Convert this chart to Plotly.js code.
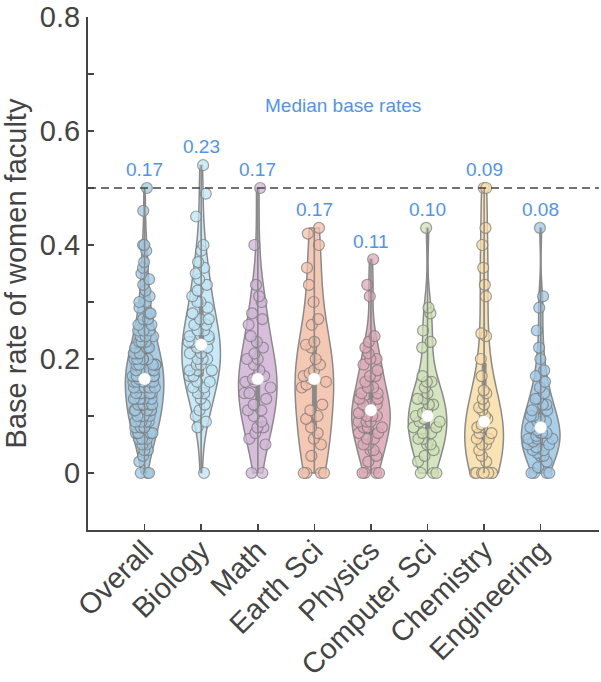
<!DOCTYPE html>
<html>
<head>
<meta charset="utf-8">
<script src="https://cdn.plot.ly/plotly-3.0.1.min.js"></script>
<style>
  html, body { margin: 0; padding: 0; background: #fff; }
  #chart { width: 601px; height: 682px; }
</style>
</head>
<body>
<div id="chart"></div>
<script>
var categories = ['Overall', 'Biology', 'Math', 'Earth Sci', 'Physics', 'Computer Sci', 'Chemistry', 'Engineering'];
var medianLabels = ['0.17', '0.23', '0.17', '0.17', '0.11', '0.10', '0.09', '0.08'];
var threshold = 0.5;

var overall = [0.5, 0.46, 0.40, 0.40, 0.39, 0.37, 0.36, 0.35, 0.34, 0.33, 0.32, 0.31, 0.30, 0.30, 0.29,
  0.28, 0.28, 0.27, 0.27, 0.26, 0.26, 0.25, 0.25, 0.25, 0.24, 0.24, 0.24, 0.23, 0.23, 0.23,
  0.22, 0.22, 0.22, 0.22, 0.21, 0.21, 0.21, 0.21, 0.20, 0.20, 0.20, 0.20, 0.20,
  0.19, 0.19, 0.19, 0.19, 0.19, 0.18, 0.18, 0.18, 0.18, 0.18, 0.17, 0.17, 0.17, 0.17, 0.17, 0.17,
  0.165, 0.165, 0.16, 0.16, 0.16, 0.16, 0.16, 0.15, 0.15, 0.15, 0.15, 0.15,
  0.14, 0.14, 0.14, 0.14, 0.14, 0.13, 0.13, 0.13, 0.13, 0.13, 0.12, 0.12, 0.12, 0.12, 0.12,
  0.11, 0.11, 0.11, 0.11, 0.11, 0.10, 0.10, 0.10, 0.10, 0.10, 0.09, 0.09, 0.09, 0.09,
  0.08, 0.08, 0.08, 0.08, 0.07, 0.07, 0.07, 0.07, 0.06, 0.06, 0.06, 0.05, 0.05, 0.04, 0.04,
  0.03, 0.02, 0.0, 0.0, 0.0];
var biology = [0.54, 0.49, 0.45, 0.40, 0.39, 0.37, 0.36, 0.35, 0.34, 0.33, 0.32, 0.31, 0.30, 0.30,
  0.29, 0.28, 0.27, 0.27, 0.26, 0.26, 0.25, 0.25, 0.24, 0.24, 0.235, 0.23, 0.23, 0.225,
  0.22, 0.22, 0.21, 0.21, 0.20, 0.20, 0.20, 0.19, 0.19, 0.18, 0.18, 0.18, 0.17, 0.17,
  0.16, 0.16, 0.15, 0.15, 0.14, 0.14, 0.13, 0.12, 0.11, 0.10, 0.09, 0.08, 0.0];
var math = [0.5, 0.40, 0.33, 0.31, 0.30, 0.28, 0.27, 0.26, 0.24, 0.23, 0.22, 0.21, 0.20, 0.20,
  0.19, 0.18, 0.17, 0.17, 0.165, 0.16, 0.16, 0.15, 0.14, 0.14, 0.13, 0.12, 0.11, 0.11,
  0.10, 0.09, 0.08, 0.08, 0.07, 0.06, 0.05, 0.0, 0.0];
var earthSci = [0.43, 0.42, 0.40, 0.36, 0.33, 0.30, 0.27, 0.26, 0.23, 0.225, 0.22, 0.20, 0.19,
  0.18, 0.175, 0.17, 0.165, 0.16, 0.155, 0.15, 0.12, 0.11, 0.10, 0.095, 0.08, 0.07, 0.06,
  0.05, 0.03, 0.0, 0.0, 0.0, 0.0];
var physics = [0.375, 0.33, 0.31, 0.24, 0.23, 0.22, 0.21, 0.20, 0.20, 0.19, 0.18, 0.17, 0.17,
  0.16, 0.15, 0.15, 0.14, 0.14, 0.13, 0.13, 0.12, 0.12, 0.12, 0.115, 0.11, 0.105, 0.10, 0.10,
  0.10, 0.09, 0.09, 0.09, 0.08, 0.08, 0.08, 0.07, 0.07, 0.06, 0.06, 0.05, 0.05, 0.04, 0.04,
  0.03, 0.02, 0.0, 0.0, 0.0, 0.0];
var computerSci = [0.43, 0.29, 0.28, 0.25, 0.23, 0.22, 0.17, 0.16, 0.16, 0.15, 0.14, 0.13, 0.13,
  0.12, 0.12, 0.11, 0.105, 0.10, 0.095, 0.09, 0.09, 0.08, 0.08, 0.07, 0.07, 0.06, 0.06, 0.05,
  0.05, 0.04, 0.03, 0.02, 0.0, 0.0, 0.0];
var chemistry = [0.5, 0.5, 0.43, 0.40, 0.36, 0.33, 0.31, 0.245, 0.24, 0.20, 0.17, 0.145, 0.14,
  0.13, 0.12, 0.115, 0.11, 0.10, 0.095, 0.09, 0.085, 0.08, 0.08, 0.07, 0.07, 0.06, 0.06,
  0.05, 0.05, 0.04, 0.03, 0.02, 0.0, 0.0, 0.0, 0.0, 0.0, 0.0, 0.0];
var engineering = [0.43, 0.31, 0.29, 0.25, 0.22, 0.20, 0.18, 0.17, 0.16, 0.15, 0.14, 0.13, 0.13,
  0.12, 0.12, 0.11, 0.11, 0.10, 0.10, 0.095, 0.09, 0.09, 0.085, 0.08, 0.075, 0.07, 0.07, 0.07,
  0.065, 0.06, 0.06, 0.06, 0.055, 0.05, 0.05, 0.045, 0.04, 0.04, 0.035, 0.03, 0.03, 0.02,
  0.01, 0.0, 0.0, 0.0, 0.0];

var series = [overall, biology, math, earthSci, physics, computerSci, chemistry, engineering];

var fills = ['#a9cde4', '#c8eaf8', '#d8bedc', '#f5c8b3', '#e2b3bf', '#d5e5bf', '#fae3b3', '#a9d0ea'];
var dots = ['rgba(160,200,225,0.75)', 'rgba(190,228,245,0.75)', 'rgba(210,182,216,0.75)',
  'rgba(243,192,170,0.75)', 'rgba(222,170,183,0.75)', 'rgba(205,224,180,0.75)',
  'rgba(248,220,165,0.75)', 'rgba(160,200,230,0.75)'];
var gray = '#8a8a8a';
var blue = '#4f94ef';
var ink = '#444444';

function median(arr) {
  var s = arr.slice().sort(function(a, b) { return a - b; });
  var m = Math.floor(s.length / 2);
  return s.length % 2 ? s[m] : (s[m - 1] + s[m]) / 2;
}

var data = [];
var annotations = [];

series.forEach(function(vals, i) {
  var cat = categories[i];
  data.push({
    type: 'violin',
    x: vals.map(function() { return cat; }),
    y: vals,
    name: cat,
    width: 0.68,
    scalemode: 'width',
    spanmode: 'hard',
    fillcolor: fills[i],
    line: { color: gray, width: 1.5 },
    points: 'all',
    jitter: 0.75,
    pointpos: 0,
    marker: {
      size: 11,
      color: dots[i],
      line: { color: 'rgba(120,120,120,0.7)', width: 1.2 }
    },
    box: {
      visible: true,
      width: 0.1,
      fillcolor: gray,
      line: { color: gray, width: 1 }
    },
    meanline: { visible: false },
    hoverinfo: 'skip'
  });

  // thin line from min to max
  data.push({
    type: 'scatter',
    mode: 'lines',
    x: [cat, cat],
    y: [Math.min.apply(null, vals), Math.max.apply(null, vals)],
    line: { color: gray, width: 1.5 },
    hoverinfo: 'skip'
  });

  annotations.push({
    x: cat,
    y: Math.max.apply(null, vals) + 0.032,
    xref: 'x',
    yref: 'y',
    text: medianLabels[i],
    showarrow: false,
    yanchor: 'middle',
    font: { size: 19, color: blue }
  });
});

data.push({
  type: 'scatter',
  mode: 'markers',
  x: categories,
  y: series.map(median),
  marker: { size: 12, color: '#ffffff', line: { color: '#dddddd', width: 0.5 } },
  hoverinfo: 'skip'
});

annotations.push({
  x: 3.5,
  y: 0.645,
  xref: 'x',
  yref: 'y',
  text: 'Median base rates',
  showarrow: false,
  font: { size: 19, color: blue }
});

var layout = {
  width: 601,
  height: 682,
  showlegend: false,
  violinmode: 'overlay',
  paper_bgcolor: '#ffffff',
  plot_bgcolor: '#ffffff',
  font: { family: 'Liberation Sans, Arial, sans-serif', color: ink },
  margin: { l: 88, r: 2, t: 17, b: 152 },
  xaxis: {
    type: 'category',
    range: [-1, 8.03],
    showgrid: false,
    zeroline: false,
    showline: true,
    linecolor: ink,
    linewidth: 2,
    ticks: 'inside',
    ticklen: 6,
    tickwidth: 1.5,
    tickcolor: ink,
    tickangle: -45,
    ticklabelstandoff: -10,
    tickfont: { size: 29, color: ink }
  },
  yaxis: {
    range: [-0.1, 0.8],
    showgrid: false,
    zeroline: false,
    showline: true,
    linecolor: ink,
    linewidth: 2,
    ticks: 'inside',
    ticklen: 6,
    tickwidth: 1.5,
    tickcolor: ink,
    tickvals: [0, 0.1, 0.2, 0.3, 0.4, 0.5, 0.6, 0.7, 0.8],
    ticktext: ['0', '', '0.2', '', '0.4', '', '0.6', '', '0.8'],
    tickfont: { size: 29, color: ink },
    title: { text: 'Base rate of women faculty', font: { size: 29, color: ink }, standoff: 6 }
  },
  shapes: [{
    type: 'line',
    xref: 'paper',
    x0: 0,
    x1: 1,
    yref: 'y',
    y0: threshold,
    y1: threshold,
    line: { color: ink, width: 1.3, dash: '8px,5px' }
  }],
  annotations: annotations
};

Plotly.newPlot('chart', data, layout, { displayModeBar: false, staticPlot: true });
</script>
</body>
</html>
